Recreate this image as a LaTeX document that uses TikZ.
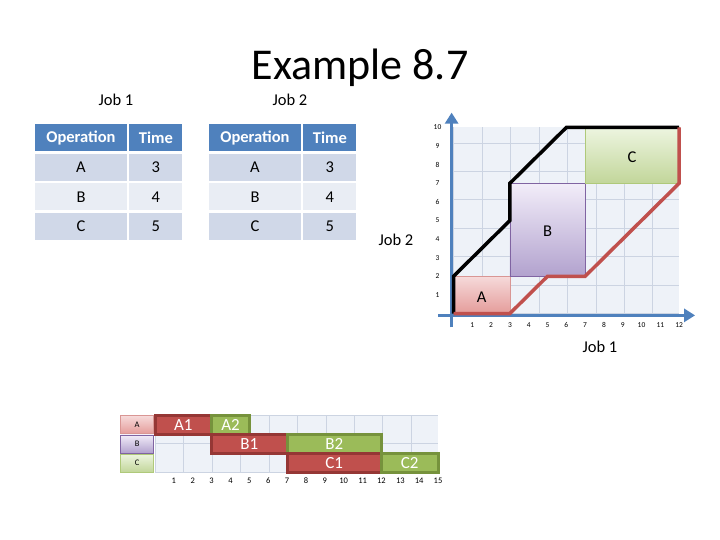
\documentclass[tikz,border=0pt]{standalone}
\usepackage{fontspec}
\setmainfont{Carlito}
\usetikzlibrary{arrows.meta,positioning}
\definecolor{hdblue}{RGB}{79,129,189}
\definecolor{rowdk}{RGB}{208,216,232}
\definecolor{rowlt}{RGB}{233,237,244}
\definecolor{brick}{RGB}{192,80,77}
\definecolor{brickdk}{RGB}{149,55,53}
\definecolor{olive}{RGB}{155,187,89}
\definecolor{olivedk}{RGB}{118,146,60}
\definecolor{gridbg}{RGB}{238,242,248}
\definecolor{gridln}{RGB}{204,212,226}
\definecolor{pinktop}{RGB}{246,218,218}
\definecolor{pinkbot}{RGB}{228,156,154}
\definecolor{lavtop}{RGB}{242,237,249}
\definecolor{lavbot}{RGB}{178,162,206}
\definecolor{lavbd}{RGB}{128,100,162}
\definecolor{limetop}{RGB}{237,245,224}
\definecolor{limebot}{RGB}{194,214,154}

\begin{document}
\begin{tikzpicture}[x=1pt,y=-1pt,node distance=2pt,every node/.style={inner sep=0pt,font=\fontsize{16.5}{18}\selectfont}]
\useasboundingbox (0,0) rectangle (720,540);
\tikzstyle{hd}=[fill=hdblue,text=white,font=\fontsize{16.5}{18}\selectfont\bfseries,minimum height=27pt]
\tikzstyle{dk}=[fill=rowdk,minimum height=27pt]
\tikzstyle{lt}=[fill=rowlt,minimum height=27pt]
\tikzstyle{opw}=[minimum width=92pt]
\tikzstyle{tw}=[minimum width=53pt]
\tikzstyle{axis}=[draw=hdblue,line width=3.5pt,-{Triangle[length=11pt,width=13pt]}]
\tikzstyle{tk}=[font=\fontsize{7.5}{9}\selectfont]
\tikzstyle{rl}=[minimum width=33pt,minimum height=18pt,font=\fontsize{8.5}{9}\selectfont]
\tikzstyle{rbar}=[fill=brick,draw=brickdk,line width=3pt]
\tikzstyle{gbar}=[fill=olive,draw=olivedk,line width=3pt]
\tikzstyle{bl}=[text=white,font=\fontsize{17}{19}\selectfont]
\node[font=\fontsize{44}{48}\selectfont] (title) at (360,68) {Example 8.7};
% job 1 table
\node (job1) at (116,100) {Job 1};
\node[hd,opw] (op1) at (81,138) {Operation};
\node[hd,tw,right=of op1] (tm1) {Time};
\node[dk,opw,below=of op1] (a1) {A};
\node[dk,tw,below=of tm1] (a1t) {3};
\node[lt,opw,below=of a1] (b1) {B};
\node[lt,tw,below=of a1t] (b1t) {4};
\node[dk,opw,below=of b1] (c1) {C};
\node[dk,tw,below=of b1t] (c1t) {5};
% job 2 table
\node (job2) at (290,100) {Job 2};
\node[hd,opw] (op2) at (255,138) {Operation};
\node[hd,tw,right=of op2] (tm2) {Time};
\node[dk,opw,below=of op2] (a2) {A};
\node[dk,tw,below=of tm2] (a2t) {3};
\node[lt,opw,below=of a2] (b2) {B};
\node[lt,tw,below=of a2t] (b2t) {4};
\node[dk,opw,below=of b2] (c2) {C};
\node[dk,tw,below=of b2t] (c2t) {5};
% job chart
\begin{scope}[xshift=453.5pt,yshift=-313.5pt,x=18.8pt,y=18.6pt]
\fill[gridbg] (0,0) rectangle (12,10);
\draw[gridln,thin] (0,0) grid (12,10);
\draw[brick!60,top color=pinktop,bottom color=pinkbot] (0,0) rectangle (3,2);
\draw[lavbd,top color=lavtop,bottom color=lavbot] (3,2) rectangle (7,7);
\draw[olive!80,top color=limetop,bottom color=limebot] (7,7) rectangle (12,10);
\node (la) at (1.5,0.9) {A};
\node (lb) at (5,4.4) {B};
\node (lc) at (9.5,8.4) {C};
\coordinate (xs) at (-0.8,-0.1); \coordinate (xe) at (12.85,-0.1);
\coordinate (ys) at (-0.1,-0.75); \coordinate (ye) at (-0.1,10.8);
\draw[axis] (xs)--(xe);\draw[axis] (ys)--(ye);
\draw[line width=3.5pt] (0,0)--(0,2)--(3,5)--(3,7)--(6,10)--(12,10);
\draw[brick,line width=3.5pt] (0,0)--(3,0)--(5,2)--(7,2)--(12,7)--(12,10);
\foreach \i in {1,...,12} \node[tk] (x\i) at (\i,-0.6) {\i};
\foreach \i in {1,...,10} \node[tk] (y\i) at (-0.85,\i) {\i};
\end{scope}
\node (ax2) at (396,240) {Job 2};
\node (ax1) at (600,347) {Job 1};
% gantt
\begin{scope}[xshift=155pt,yshift=-415pt,x=18.87pt,y=-19.2pt]
\fill[gridbg] (0,0) rectangle (15,3);
\draw[gridln] (0,0) grid (15,3);
\node[rl,draw=brick!60,top color=pinktop,bottom color=pinkbot] (ra) at (-0.95,0.5) {A};
\node[rl,draw=lavbd,top color=lavtop,bottom color=lavbot] (rb) at (-0.95,1.5) {B};
\node[rl,draw=olive!80,top color=limetop,bottom color=limebot] (rc) at (-0.95,2.5) {C};
\draw[rbar] (0,0) rectangle (3,1) node[bl,midway] (ga1) {A1};
\draw[gbar] (3,0) rectangle (5,1) node[bl,midway] (ga2) {A2};
\draw[rbar] (3,1) rectangle (7,2) node[bl,midway] (gb1) {B1};
\draw[gbar] (7,1) rectangle (12,2) node[bl,midway] (gb2) {B2};
\draw[rbar] (7,2) rectangle (12,3) node[bl,midway] (gc1) {C1};
\draw[gbar] (12,2) rectangle (15,3) node[bl,midway] (gc2) {C2};
\foreach \i in {1,...,15} \node[tk,font=\fontsize{8.5}{9}\selectfont] (g\i) at (\i,3.42) {\i};
\end{scope}
\end{tikzpicture}
\end{document}
